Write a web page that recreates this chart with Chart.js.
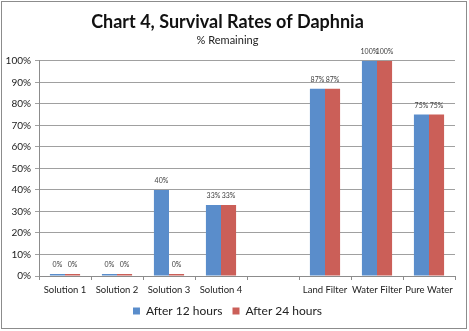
<!DOCTYPE html>
<html>
<head>
<meta charset="utf-8">
<script src="https://cdn.jsdelivr.net/npm/chart.js@4"></script>
<style>
  html, body { margin: 0; padding: 0; background: #fff; }
  #wrap { position: relative; width: 469px; height: 331px; }
  #frame { position: absolute; left: 1px; top: 1px; width: 464px; height: 326px;
           border: 1px solid #8c8c8c; pointer-events: none; }
</style>
</head>
<body>
<div id="wrap">
  <canvas id="myChart" width="469" height="331"></canvas>
  <div id="frame"></div>
</div>
<script>
var categories = ['Solution 1', 'Solution 2', 'Solution 3', 'Solution 4', '', 'Land Filter', 'Water Filter', 'Pure Water'];
var after12 = [0, 0, 40, 33, null, 87, 100, 75];
var after24 = [0, 0, 0, 33, null, 87, 100, 75];
var yTicks = [0, 10, 20, 30, 40, 50, 60, 70, 80, 90, 100];

var FONT = 'Lato, "Open Sans", sans-serif';

// small labels above each bar, like Excel's data labels
var barLabels = {
  id: 'barLabels',
  afterDatasetsDraw: function(chart) {
    var c = chart.ctx;
    c.save();
    c.font = '7px ' + FONT;
    c.fillStyle = '#404040';
    c.textAlign = 'center';
    c.textBaseline = 'middle';
    chart.data.datasets.forEach(function(ds, i) {
      chart.getDatasetMeta(i).data.forEach(function(bar, j) {
        if (ds.data[j] === null) return;
        c.fillText(ds.data[j] + '%', bar.x, bar.y - 9);
      });
    });
    c.restore();
  }
};

var ctx = document.getElementById('myChart').getContext('2d');
var myChart = new Chart(ctx, {
  type: 'bar',
  data: {
    labels: categories,
    datasets: [{
      label: 'After 12 hours',
      data: after12,
      backgroundColor: '#5A8DCB',
      minBarLength: 2,
      barPercentage: 1,
      categoryPercentage: 0.58
    }, {
      label: 'After 24 hours',
      data: after24,
      backgroundColor: '#CB5F58',
      minBarLength: 2,
      barPercentage: 1,
      categoryPercentage: 0.58
    }]
  },
  plugins: [barLabels],
  options: {
    responsive: false,
    animation: false,
    layout: { padding: { left: 0, right: 14, top: 0, bottom: 4 } },
    scales: {
      x: {
        grid: { display: true, drawOnChartArea: false, drawTicks: true, tickLength: 4, color: '#8c8c8c', offset: true },
        border: { color: '#8c8c8c' },
        ticks: { color: '#222', font: { family: FONT, size: 9.5 }, padding: 4, maxRotation: 0, autoSkip: false },
        afterFit: function(s) { s.height = 19; }
      },
      y: {
        min: 0,
        max: 100,
        afterBuildTicks: function(s) { s.ticks = yTicks.map(function(v) { return { value: v }; }); },
        grid: { color: '#a0a0a0', tickLength: 4 },
        border: { color: '#8c8c8c' },
        ticks: { color: '#222', font: { family: FONT, size: 10 }, padding: 4,
                 callback: function(v) { return v + '%'; } },
        afterFit: function(s) { s.width = 39; }
      }
    },
    plugins: {
      legend: {
        position: 'bottom',
        labels: { boxWidth: 7, boxHeight: 7, color: '#222', padding: 10,
                  font: { family: FONT, size: 12 } }
      },
      title: {
        display: true,
        text: 'Chart 4, Survival Rates of Daphnia',
        color: '#111',
        font: { family: FONT, size: 18, weight: 'bold' },
        padding: { top: 11, bottom: 1 }
      },
      subtitle: {
        display: true,
        text: '% Remaining',
        color: '#222',
        font: { family: FONT, size: 11 },
        padding: { top: 0, bottom: 14 }
      },
      tooltip: { enabled: false }
    }
  }
});
</script>
</body>
</html>
